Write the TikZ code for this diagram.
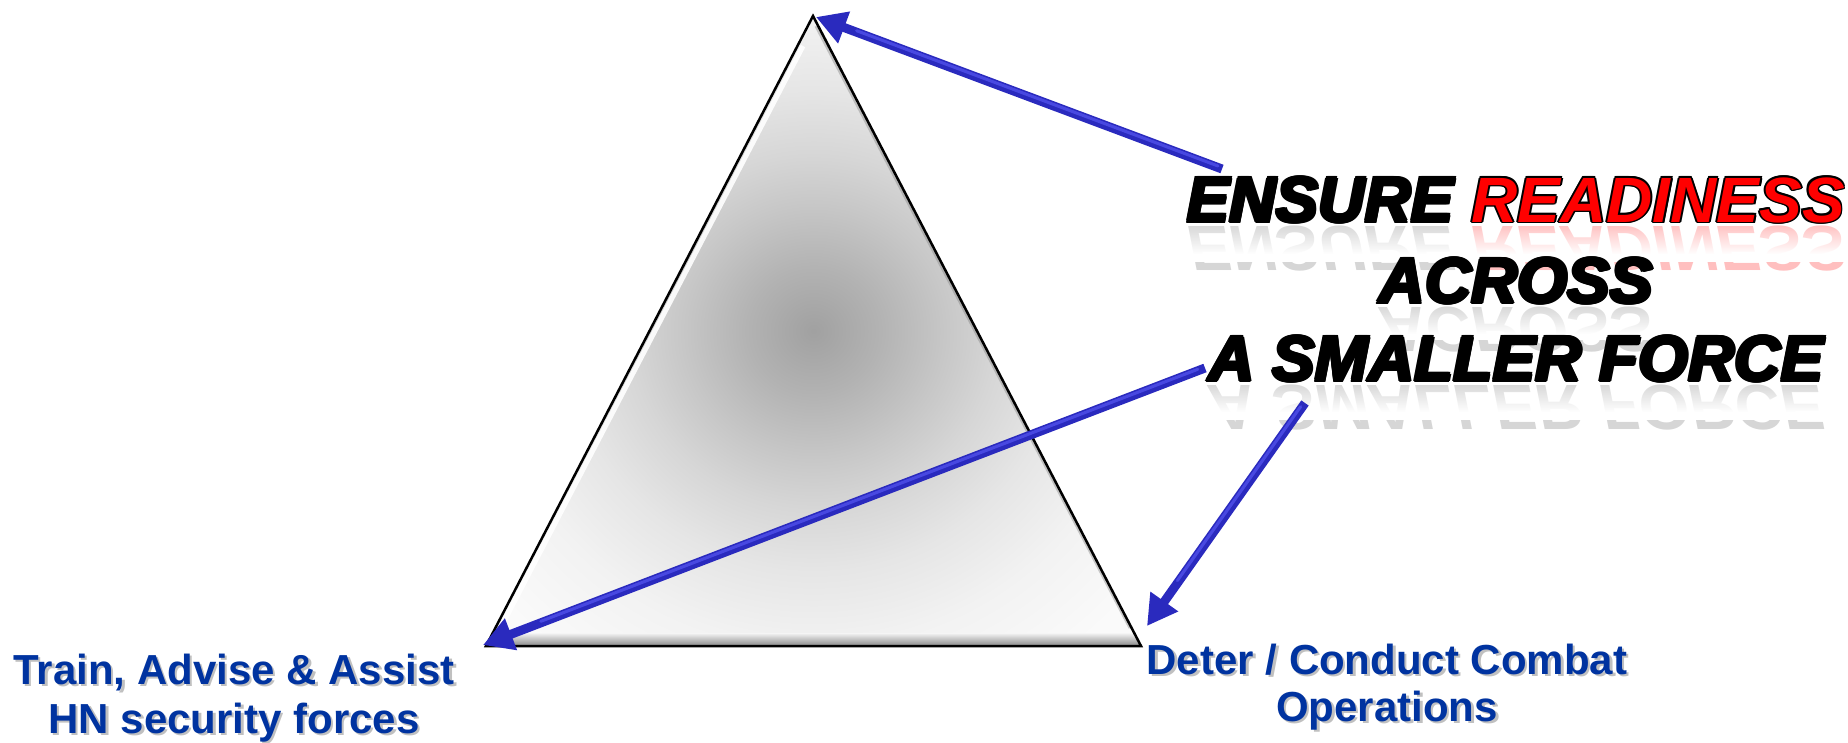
\documentclass[tikz,border=0pt]{standalone}
\usepackage{fontspec}
\setmainfont{Liberation Sans}
\usepackage{graphicx}
\usetikzlibrary{arrows.meta,fadings,calc}
\definecolor{arrowblue}{RGB}{42,42,190}
\definecolor{arrowlight}{RGB}{72,72,225}
\definecolor{labelblue}{RGB}{0,51,160}
\definecolor{readred}{RGB}{255,0,0}
\tikzfading[name=fadedown, top color=transparent!100, bottom color=transparent!0]
\pgfdeclareradialshading{trishade}{\pgfpoint{0bp}{0bp}}{color(0bp)=(black!37); color(5bp)=(black!30); color(10bp)=(black!22); color(14bp)=(black!16); color(19bp)=(black!10); color(25bp)=(black!5); color(32bp)=(black!2); color(50bp)=(white)}
\tikzset{
  bigtxt/.style={font=\fontsize{64}{77}\selectfont\bfseries\itshape, inner sep=0pt, anchor=base},
  refl/.style={bigtxt, text=black!16},
  lbl/.style={font=\fontsize{42}{50}\selectfont\bfseries, inner sep=0pt, anchor=base, text=labelblue},
  lblshadow/.style={lbl, text=black!45, opacity=0.55},
  arr/.style={draw=arrowblue, line width=9pt, -{Triangle[length=30pt,width=32pt]}},
  arrhi/.style={draw=arrowlight, line width=3pt, line cap=round},
  edge/.style={draw=black, line width=2.5pt, line join=miter}
}
\begin{document}
\begin{tikzpicture}[x=1pt,y=-1pt]
\useasboundingbox (0,0) rectangle (1848,742);

% triangle
\coordinate (A) at (813,16);
\coordinate (BL) at (486,646);
\coordinate (BR) at (1141,646);
\shade[shading=trishade] (A) -- (BR) -- (BL) -- cycle;
\begin{scope}
  \clip (A) -- (BR) -- (BL) -- cycle;
  \shade[top color=black!4, bottom color=black!50] (480,633) rectangle (1150,647);
  \draw[white, line width=5pt, opacity=0.9] (499,631) -- (803,46);
  \draw[black!50, line width=3pt, opacity=0.4] (1130,628) -- (816,26);
\end{scope}
\draw[edge] (A) -- (BR) -- (BL) -- cycle;

% reflections
\node[refl] (r1) at (1516,226) {\scalebox{1}[-1]{ENSURE \textcolor{red!25}{READINESS}}};
\node[refl] (r2) at (1516,307) {\scalebox{1}[-1]{ACROSS}};
\node[refl] (r3) at (1516,385) {\scalebox{1}[-1]{A SMALLER FORCE}};
\fill[white, path fading=fadedown] (1150,224) rectangle (1848,254);
\fill[white, path fading=fadedown] (1150,305) rectangle (1848,334);
\fill[white, path fading=fadedown] (1150,383) rectangle (1848,412);
\fill[white] (1150,254) rectangle (1848,262);
\fill[white] (1150,334) rectangle (1848,340);
\fill[white] (1150,412) rectangle (1848,420);

% heading (outlined)
\foreach \dx/\dy [count=\i] in {1.8/0,-1.8/0,0/1.8,0/-1.8,1.3/1.3,1.3/-1.3,-1.3/1.3,-1.3/-1.3}{
  \node[bigtxt] (oa\i) at (1516+\dx,222+\dy) {ENSURE READINESS};
  \node[bigtxt] (ob\i) at (1516+\dx,303+\dy) {ACROSS};
  \node[bigtxt] (oc\i) at (1516+\dx,381+\dy) {A SMALLER FORCE};
}
\node[bigtxt] (line1) at (1516,222) {ENSURE \textcolor{readred}{READINESS}};
\node[bigtxt] (line2) at (1516,303) {ACROSS};
\node[bigtxt] (line3) at (1516,381) {A SMALLER FORCE};

% arrows
\coordinate (s1) at (1222,169);
\coordinate (t1) at (816,17);
\coordinate (s2) at (1205,368);
\coordinate (t2) at (483,645);
\coordinate (s3) at (1305,403);
\coordinate (t3) at (1147,626);
\draw[arr] (s1) -- (t1);
\draw[arr] (s2) -- (t2);
\draw[arr] (s3) -- (t3);
\draw[arrhi] ($(s1)!0.01!(t1)+(0,-1.5)$) -- ($(s1)!0.9!(t1)+(0,-1.5)$);
\draw[arrhi] ($(s2)!0.01!(t2)+(0,-1.5)$) -- ($(s2)!0.92!(t2)+(0,-1.5)$);
\draw[arrhi] ($(s3)!0.02!(t3)+(-1.2,-0.8)$) -- ($(s3)!0.8!(t3)+(-1.2,-0.8)$);

% labels
\node[lblshadow] (tl1s) at (236.5,686.5) {Train, Advise \& Assist};
\node[lblshadow] (tl2s) at (236.5,735.5) {HN security forces};
\node[lblshadow] (rl1s) at (1389.5,676.5) {Deter / Conduct Combat};
\node[lblshadow] (rl2s) at (1389.5,723.5) {Operations};
\node[lbl] (tl1) at (234,684) {Train, Advise \& Assist};
\node[lbl] (tl2) at (234,733) {HN security forces};
\node[lbl] (rl1) at (1387,674) {Deter / Conduct Combat};
\node[lbl] (rl2) at (1387,721) {Operations};
\end{tikzpicture}
\end{document}
